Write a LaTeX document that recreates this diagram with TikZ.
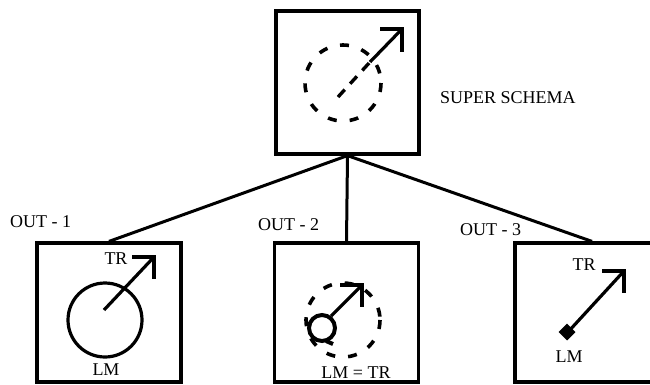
\documentclass[tikz,border=0pt]{standalone}
\usepackage{fontspec}
\setmainfont{Liberation Serif}
\begin{document}
\begin{tikzpicture}[x=1pt,y=-1pt,
  frame/.style={draw=black,line width=3.2pt,inner sep=0pt,minimum width=144pt,minimum height=139pt},
  conn/.style={draw=black,line width=3pt},
  ring/.style={draw=black,line width=3.2pt},
  dring/.style={draw=black,line width=3.6pt,dash pattern=on 9pt off 13pt},
  shaft/.style={draw=black,line width=3.2pt},
  lbl/.style={font=\fontsize{18}{18}\selectfont,inner sep=0pt}]
\useasboundingbox (0,0) rectangle (650,384);
\clip (0,0) rectangle (650,384);
% boxes
\node[frame,minimum width=143pt,minimum height=143pt] (super) at (347.5,82.5) {};
\node[frame] (out1) at (109,312.5) {};
\node[frame] (out2) at (346.5,312.5) {};
\node[frame,minimum width=154pt] (out3) at (592,312.5) {};
% connectors
\draw[conn] (super.south) -- (out1.north);
\draw[conn] (super.south) -- (out2.north);
\draw[conn] (super.south) -- (out3.north);
% labels
\node[lbl,anchor=west] (lsuper) at (440,98) {SUPER SCHEMA};
\node[lbl,anchor=base west] (lo1) at (10,227) {OUT - 1};
\node[lbl,anchor=base west] (lo2) at (258,230) {OUT - 2};
\node[lbl,anchor=base west] (lo3) at (460,235) {OUT - 3};
% super schema content
\draw[dring] (343,83) circle (38);
\draw[line width=3.4pt,dash pattern=on 10pt off 8pt] (338,97) -- (370,62);
\draw[shaft] (370,62) -- (402,29);
\draw[shaft] (380,29) -- (402,29) -- (402,52);
% out1 content
\draw[ring] (105,320) circle (37);
\draw[shaft] (104,310) -- (154,257);
\draw[shaft] (132,257) -- (154,257) -- (154,279);
\node[lbl] (tr1) at (116,259) {TR};
\node[lbl] (lm1) at (106,370) {LM};
% out2 content
\draw[dring] (343,320) circle (37);
\draw[line width=4pt] (322,328) circle (13);
\draw[line width=4pt] (326,341) -- (333,344);
\draw[shaft] (331,316) -- (362,285);
\draw[shaft] (340,285) -- (362,285) -- (362,307);
\node[lbl] (lmtr) at (356,373) {LM = TR};
% out3 content
\draw[shaft] (568,332) -- (624,271);
\draw[shaft] (602,271) -- (624,271) -- (624,293);
\fill[black,rotate around={45:(567,332)}] (561,326) rectangle (573,338);
\node[lbl] (tr3) at (584,265) {TR};
\node[lbl] (lm3) at (569,357) {LM};
\end{tikzpicture}
\end{document}
